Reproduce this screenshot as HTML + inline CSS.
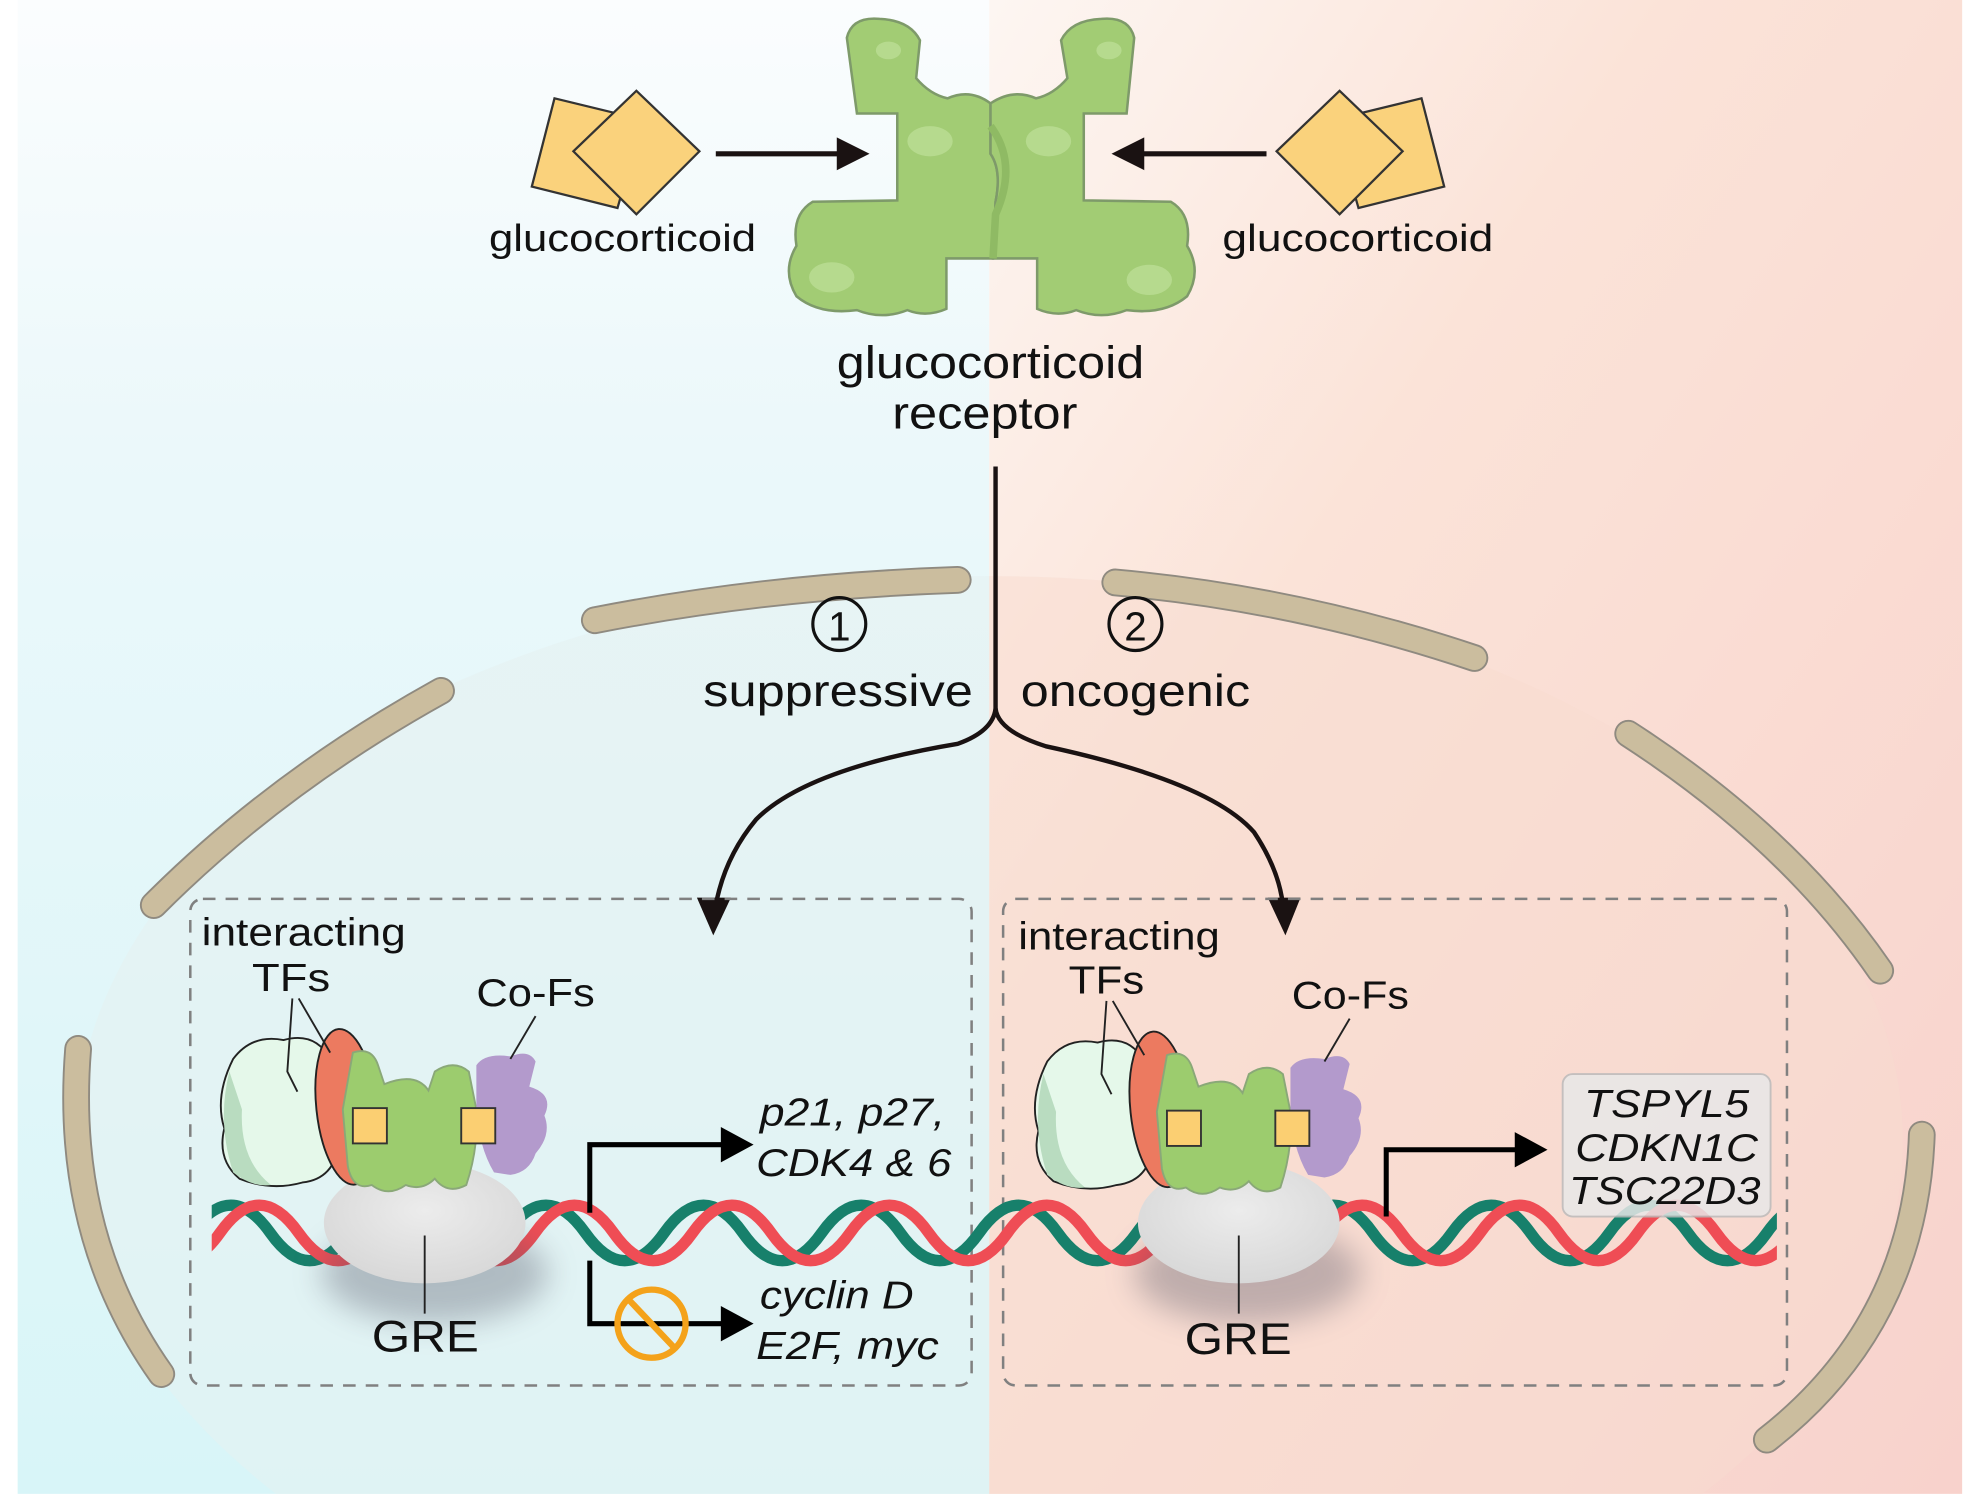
<!DOCTYPE html>
<html><head><meta charset="utf-8"><style>
html,body{margin:0;padding:0;background:#fff;overflow:hidden;width:1976px;height:1509px;}
svg{display:block;}
text{font-family:"Liberation Sans",Arial,sans-serif;fill:#111;}
.it{font-style:italic;}
</style></head><body>
<svg width="1976" height="1509" viewBox="0 0 1568 1197" preserveAspectRatio="none" xmlns="http://www.w3.org/2000/svg">
<defs>
<linearGradient id="gl" x1="0" y1="0" x2="0" y2="1">
<stop offset="0" stop-color="#fbfdfe"/><stop offset="0.3" stop-color="#ebf8fa"/><stop offset="1" stop-color="#d8f5f8"/></linearGradient>
<linearGradient id="gr" x1="0" y1="0" x2="1" y2="1">
<stop offset="0" stop-color="#fdf6f2"/><stop offset="0.35" stop-color="#fbe3d8"/><stop offset="1" stop-color="#f8d2cc"/></linearGradient>
<radialGradient id="gre" cx="0.5" cy="0.4" r="0.6"><stop offset="0" stop-color="#ececec"/><stop offset="1" stop-color="#d8d8d8"/></radialGradient>
<filter id="blur" x="-50%" y="-50%" width="200%" height="200%"><feGaussianBlur stdDeviation="12"/></filter>
<clipPath id="cl"><rect x="0" y="0" width="785" height="1185"/></clipPath>
<clipPath id="cr"><rect x="785" y="0" width="772" height="1185"/></clipPath>
<clipPath id="cd"><rect x="168" y="900" width="1242" height="150"/></clipPath>
</defs>
<rect x="0" y="0" width="1568" height="1197" fill="#fff"/>
<rect x="14" y="0" width="771" height="1185" fill="url(#gl)"/>
<rect x="785" y="0" width="772" height="1185" fill="url(#gr)"/>
<ellipse cx="785" cy="905" rx="725" ry="448" fill="#e6f1f0" opacity="0.55" clip-path="url(#cl)"/>
<ellipse cx="785" cy="905" rx="725" ry="448" fill="#f7dccf" opacity="0.5" clip-path="url(#cr)"/>
<g fill="none" stroke="#8f8a80" stroke-width="22" stroke-linecap="round">
<path d="M472,492 Q610,465 760,460"/>
<path d="M885,462 Q1030,475 1170,522"/>
<path d="M122,718 Q220,620 350,548"/>
<path d="M1292,582 Q1420,665 1492,770"/>
<path d="M62,832 Q50,980 128,1090"/>
<path d="M1525,900 Q1520,1050 1402,1142"/>
</g>
<g fill="none" stroke="#cbbd9e" stroke-width="19" stroke-linecap="round">
<path d="M472,492 Q610,465 760,460"/>
<path d="M885,462 Q1030,475 1170,522"/>
<path d="M122,718 Q220,620 350,548"/>
<path d="M1292,582 Q1420,665 1492,770"/>
<path d="M62,832 Q50,980 128,1090"/>
<path d="M1525,900 Q1520,1050 1402,1142"/>
</g>

<g stroke="#7e9a6a" stroke-width="2">
<path fill="#a2cc74" d="M672,30 Q676,13 698,15 Q722,16 730,32 L727,62 Q738,75 752,78 Q770,70 786,82 L786,122 Q795,135 790,160 L788,205 L751,205 L751,245 Q735,252 720,246 Q700,254 680,246 Q650,250 632,235 Q620,215 632,195 Q628,170 645,160 L712,159 L712,90 L680,90 Z"/>
<path fill="#a2cc74" d="M900,30 Q896,13 874,15 Q850,16 842,32 L847,62 Q836,75 822,78 Q804,70 786,82 L786,122 Q795,135 790,160 L788,205 L823,205 L823,245 Q839,252 854,246 Q874,254 894,246 Q924,250 942,235 Q954,215 942,195 Q946,170 929,160 L860,159 L860,90 L894,90 Z"/>
</g>
<g fill="#bfe09a" opacity="0.7">
<ellipse cx="705" cy="40" rx="10" ry="7"/><ellipse cx="880" cy="40" rx="10" ry="7"/>
<ellipse cx="738" cy="112" rx="18" ry="12"/><ellipse cx="832" cy="112" rx="18" ry="12"/>
<ellipse cx="660" cy="220" rx="18" ry="12"/><ellipse cx="912" cy="222" rx="18" ry="12"/>
</g>
<path d="M786,100 Q808,130 790,170 L788,205" fill="none" stroke="#8fba64" stroke-width="6"/>

<g stroke="#333" stroke-width="1.8" fill="#fad27c">
<polygon points="440,78 510,95 490,165 422,148"/>
<polygon points="505,72 555,120 505,170 455,120"/>
<polygon points="1128,78 1058,95 1078,165 1146,148"/>
<polygon points="1063,72 1113,120 1063,170 1013,120"/>
</g>
<g stroke="#1a1212" stroke-width="4" fill="#1a1212">
<line x1="568" y1="122" x2="668" y2="122"/><polygon points="690,122 664,109 664,135" stroke="none"/>
<line x1="1005" y1="122" x2="905" y2="122"/><polygon points="882,122 908,109 908,135" stroke="none"/>
</g>
<text x="388" y="199" font-size="30" textLength="212" lengthAdjust="spacingAndGlyphs">glucocorticoid</text>
<text x="970" y="199" font-size="30" textLength="215" lengthAdjust="spacingAndGlyphs">glucocorticoid</text>
<text x="664" y="300" font-size="36" textLength="244" lengthAdjust="spacingAndGlyphs">glucocorticoid</text>
<text x="708" y="340" font-size="36" textLength="147" lengthAdjust="spacingAndGlyphs">receptor</text>

<g fill="none" stroke="#1a1212" stroke-width="3.5">
<path d="M790,370 L790,562 Q788,580 760,590 Q640,610 600,650 Q575,680 568,718"/>
<path d="M790,562 Q792,580 830,592 Q960,620 995,660 Q1015,690 1018,718"/>
</g>
<polygon points="553,712 580,712 566,742" fill="#1a1212"/>
<polygon points="1006,712 1032,712 1020,742" fill="#1a1212"/>
<circle cx="666" cy="495" r="21" fill="none" stroke="#111" stroke-width="2.5"/>
<text x="666" y="508" font-size="32" text-anchor="middle">1</text>
<circle cx="901" cy="495" r="21" fill="none" stroke="#111" stroke-width="2.5"/>
<text x="901" y="508" font-size="32" text-anchor="middle">2</text>
<text x="558" y="560" font-size="35" textLength="214" lengthAdjust="spacingAndGlyphs">suppressive</text>
<text x="810" y="560" font-size="35" textLength="182" lengthAdjust="spacingAndGlyphs">oncogenic</text>

<rect x="151" y="713" width="620" height="386" rx="10" fill="none" stroke="#808080" stroke-width="2" stroke-dasharray="10,8"/>
<rect x="796" y="713" width="622" height="386" rx="10" fill="none" stroke="#808080" stroke-width="2" stroke-dasharray="10,8"/>

<g fill="none" stroke-width="9" stroke-linecap="round" clip-path="url(#cd)">
<path stroke="#17806b" d="M112,978 q31.25,-44 62.5,0 t62.5,0 t62.5,0 t62.5,0 t62.5,0 t62.5,0 t62.5,0 t62.5,0 t62.5,0 t62.5,0 t62.5,0 t62.5,0 t62.5,0 t62.5,0 t62.5,0 t62.5,0 t62.5,0 t62.5,0 t62.5,0 t62.5,0 t62.5,0 t62.5,0" transform="translate(40,0)"/>
<path stroke="#ef4d55" d="M112,978 q31.25,44 62.5,0 t62.5,0 t62.5,0 t62.5,0 t62.5,0 t62.5,0 t62.5,0 t62.5,0 t62.5,0 t62.5,0 t62.5,0 t62.5,0 t62.5,0 t62.5,0 t62.5,0 t62.5,0 t62.5,0 t62.5,0 t62.5,0 t62.5,0 t62.5,0 t62.5,0"/>
</g>
<ellipse cx="345" cy="1010" rx="90" ry="40" fill="#556" opacity="0.35" filter="url(#blur)"/>
<ellipse cx="337" cy="970" rx="80" ry="48" fill="url(#gre)"/>
<ellipse cx="990" cy="1010" rx="90" ry="40" fill="#556" opacity="0.35" filter="url(#blur)"/>
<ellipse cx="983" cy="970" rx="80" ry="48" fill="url(#gre)"/>
<line x1="337" y1="980" x2="337" y2="1042" stroke="#222" stroke-width="1.5"/>
<line x1="983" y1="980" x2="983" y2="1042" stroke="#222" stroke-width="1.5"/>
<text x="295" y="1072" font-size="35" textLength="85" lengthAdjust="spacingAndGlyphs">GRE</text>
<text x="940" y="1074" font-size="35" textLength="85" lengthAdjust="spacingAndGlyphs">GRE</text>

<g id="cx">
<path d="M185,840 Q200,820 225,825 Q250,818 262,840 Q275,870 270,900 Q268,935 240,938 Q215,945 190,935 Q172,920 178,895 Q170,870 185,840 Z" fill="#e5f8ea" stroke="#222" stroke-width="1.5"/>
<path d="M182,850 Q172,890 185,930 Q200,942 215,940 Q190,920 192,880 Z" fill="#b9dcc0"/>
<ellipse cx="275" cy="878" rx="24" ry="62" transform="rotate(-6 275 878)" fill="#ec7a60" stroke="#222" stroke-width="1.5"/>
<path d="M280,835 Q295,830 300,845 L305,860 Q330,850 340,865 L345,850 Q360,840 372,850 L378,880 Q380,910 370,940 Q355,948 345,935 Q335,945 322,940 Q308,950 295,940 Q280,945 276,925 L272,880 Z" fill="#9ccc6e" stroke="#8aa878" stroke-width="1.5"/>
<path d="M378,845 Q385,835 405,838 Q420,832 425,842 L420,862 Q440,868 432,885 Q438,900 425,915 Q420,930 405,932 L392,930 Q380,910 378,880 Z" fill="#b39acc"/>
<rect x="280" y="879" width="27" height="28" fill="#fbcf72" stroke="#333" stroke-width="1.5"/>
<rect x="366" y="879" width="27" height="28" fill="#fbcf72" stroke="#333" stroke-width="1.5"/>
<g fill="none" stroke="#222" stroke-width="1.5">
<path d="M232,792 L228,850 L236,866"/>
<path d="M237,792 L262,835"/>
<path d="M425,806 L405,840"/>
</g>
</g>
<use href="#cx" transform="translate(646,2)"/>
<text x="160" y="750" font-size="31" textLength="162" lengthAdjust="spacingAndGlyphs">interacting</text>
<text x="200" y="786" font-size="31" textLength="62" lengthAdjust="spacingAndGlyphs">TFs</text>
<text x="378" y="798" font-size="31" textLength="94" lengthAdjust="spacingAndGlyphs">Co-Fs</text>
<text x="808" y="753" font-size="31" textLength="160" lengthAdjust="spacingAndGlyphs">interacting</text>
<text x="848" y="788" font-size="31" textLength="60" lengthAdjust="spacingAndGlyphs">TFs</text>
<text x="1025" y="800" font-size="31" textLength="93" lengthAdjust="spacingAndGlyphs">Co-Fs</text>

<g fill="none" stroke="#000" stroke-width="4">
<path d="M468,962 L468,908 L578,908"/>
<path d="M468,1000 L468,1050 L578,1050"/>
<path d="M1100,965 L1100,912 L1206,912"/>
</g>
<polygon points="598,908 572,894 572,922" fill="#000"/>
<polygon points="598,1050 572,1036 572,1064" fill="#000"/>
<polygon points="1228,912 1202,898 1202,926" fill="#000"/>
<circle cx="517" cy="1050" r="27" fill="none" stroke="#f4a21a" stroke-width="5"/>
<line x1="499" y1="1031" x2="535" y2="1069" stroke="#f4a21a" stroke-width="5"/>
<text class="it" x="603" y="893" font-size="31" textLength="147" lengthAdjust="spacingAndGlyphs">p21, p27,</text>
<text class="it" x="600" y="933" font-size="31" textLength="155" lengthAdjust="spacingAndGlyphs">CDK4 &amp; 6</text>
<text class="it" x="603" y="1038" font-size="31" textLength="122" lengthAdjust="spacingAndGlyphs">cyclin D</text>
<text class="it" x="600" y="1078" font-size="31" textLength="145" lengthAdjust="spacingAndGlyphs">E2F, myc</text>
<rect x="1240" y="852" width="165" height="113" rx="8" fill="#e8e8e8" opacity="0.85" stroke="#bbb" stroke-width="1.5"/>
<text class="it" x="1257" y="886" font-size="31" textLength="131" lengthAdjust="spacingAndGlyphs">TSPYL5</text>
<text class="it" x="1250" y="921" font-size="31" textLength="145" lengthAdjust="spacingAndGlyphs">CDKN1C</text>
<text class="it" x="1245" y="955" font-size="31" textLength="152" lengthAdjust="spacingAndGlyphs">TSC22D3</text>
</svg>
</body></html>
